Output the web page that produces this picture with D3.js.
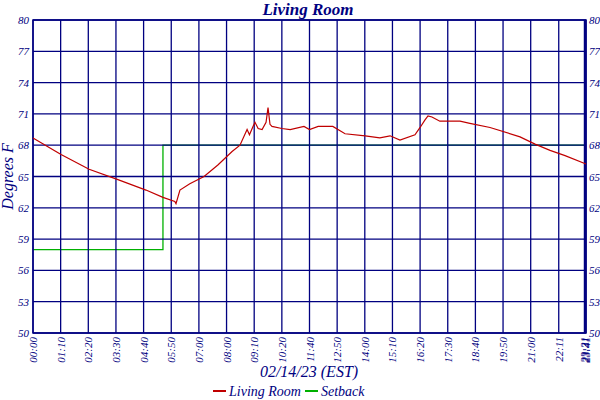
<!DOCTYPE html>
<html>
<head>
<meta charset="utf-8">
<script src="https://cdn.jsdelivr.net/npm/d3@7"></script>
<style>
  body { margin: 0; background: #fff; }
  text { font-family: "Liberation Serif", serif; font-style: italic; fill: #000080; }
</style>
</head>
<body>
<svg id="chart"></svg>
<script>
// minutes since midnight and readings (deg F)
const roomMinutes = [0, 71, 142, 215, 286, 329, 359, 362, 372, 397, 433, 468, 504, 524, 542, 548, 557, 562, 570, 580, 590, 595, 600, 605, 630, 651, 686, 700, 722, 759, 790, 841, 878, 904, 929, 967, 980, 992, 1000, 1010, 1030, 1081, 1106, 1157, 1233, 1271, 1309, 1347, 1400];
const roomTemps = [68.7, 67.1, 65.7, 64.7, 63.7, 63.0, 62.6, 62.4, 63.7, 64.3, 65.0, 66.1, 67.4, 68.0, 69.5, 69.0, 69.8, 70.2, 69.6, 69.5, 70.2, 71.6, 70.0, 69.8, 69.6, 69.5, 69.8, 69.5, 69.8, 69.8, 69.1, 68.9, 68.7, 68.9, 68.5, 69.0, 69.7, 70.4, 70.8, 70.7, 70.3, 70.3, 70.1, 69.7, 68.8, 68.1, 67.5, 67.0, 66.2];
const setbackMinutes = [0, 329, 329, 1400];
const setbackTemps = [58.0, 58.0, 68.0, 68.0];
const yTicks = [50, 53, 56, 59, 62, 65, 68, 71, 74, 77, 80];
const xTickMinutes = [0, 70, 140, 210, 280, 350, 420, 490, 560, 630, 700, 770, 840, 910, 980, 1050, 1120, 1190, 1260, 1331, 1396, 1398, 1400];
const xTickLabels = ["00:00", "01:10", "02:20", "03:30", "04:40", "05:50", "07:00", "08:00", "09:10", "10:20", "11:40", "12:50", "14:00", "15:10", "16:20", "17:30", "18:40", "19:50", "21:00", "22:11", "23:21", "23:31", "23:41"];

const width = 600, height = 400;
const margin = { top: 20, right: 14, bottom: 67, left: 33 };

const svg = d3.select('#chart').attr('width', width).attr('height', height);

const x = d3.scaleLinear().domain([0, 1400]).range([margin.left, width - margin.right]);
const y = d3.scaleLinear().domain([50, 80]).range([height - margin.bottom, margin.top]);
const line = d3.line().x(d => x(d[0])).y(d => y(d[1]));

// setback sits under the grid
svg.append('path')
  .datum(setbackMinutes.map((m, i) => [m, setbackTemps[i]]))
  .attr('d', line).attr('fill', 'none').attr('stroke', '#00b000').attr('stroke-width', 1.3);

// grid
svg.append('g').selectAll('line').data(yTicks).enter().append('line')
  .attr('x1', margin.left).attr('x2', width - margin.right)
  .attr('y1', d => y(d)).attr('y2', d => y(d))
  .attr('stroke', '#000080').attr('stroke-width', 1.3);
svg.append('g').selectAll('line').data(xTickMinutes).enter().append('line')
  .attr('x1', d => x(d)).attr('x2', d => x(d))
  .attr('y1', margin.top).attr('y2', height - margin.bottom)
  .attr('stroke', '#000080').attr('stroke-width', 1.3);
svg.append('rect')
  .attr('x', margin.left).attr('y', margin.top)
  .attr('width', width - margin.left - margin.right).attr('height', height - margin.top - margin.bottom)
  .attr('fill', 'none').attr('stroke', '#000080').attr('stroke-width', 1.5);

svg.append('path')
  .datum(roomMinutes.map((m, i) => [m, roomTemps[i]]))
  .attr('d', line).attr('fill', 'none').attr('stroke', '#c00000').attr('stroke-width', 1.2);

// y labels both sides
svg.append('g').selectAll('text').data(yTicks).enter().append('text')
  .attr('x', margin.left - 4).attr('y', d => y(d) + 4)
  .attr('text-anchor', 'end').attr('font-size', 11).text(d => d);
svg.append('g').selectAll('text').data(yTicks).enter().append('text')
  .attr('x', width - margin.right + 3).attr('y', d => y(d) + 4)
  .attr('text-anchor', 'start').attr('font-size', 11).text(d => d);

// x labels rotated
svg.append('g').selectAll('text').data(xTickMinutes).enter().append('text')
  .attr('transform', d => `translate(${x(d) + 4},${height - margin.bottom + 4}) rotate(-90)`)
  .attr('text-anchor', 'end').attr('font-size', 11)
  .text((d, i) => xTickLabels[i]);

// titles
svg.append('text').attr('x', 308).attr('y', 15).attr('text-anchor', 'middle')
  .attr('font-size', 17).attr('font-weight', 'bold').text('Living Room');
svg.append('text').attr('x', 309).attr('y', 377).attr('text-anchor', 'middle')
  .attr('font-size', 16).text('02/14/23 (EST)');
svg.append('text').attr('transform', `translate(13,${(margin.top + height - margin.bottom) / 2}) rotate(-90)`)
  .attr('text-anchor', 'middle').attr('font-size', 16).text('Degrees F');

// legend
const legend = [['Living Room', '#c00000', 213], ['Setback', '#00b000', 305]];
legend.forEach(([name, color, lx]) => {
  svg.append('line').attr('x1', lx).attr('x2', lx + 13).attr('y1', 391).attr('y2', 391)
    .attr('stroke', color).attr('stroke-width', 2);
  svg.append('text').attr('x', lx + 16).attr('y', 396).attr('font-size', 14).text(name);
});
</script>
</body>
</html>
